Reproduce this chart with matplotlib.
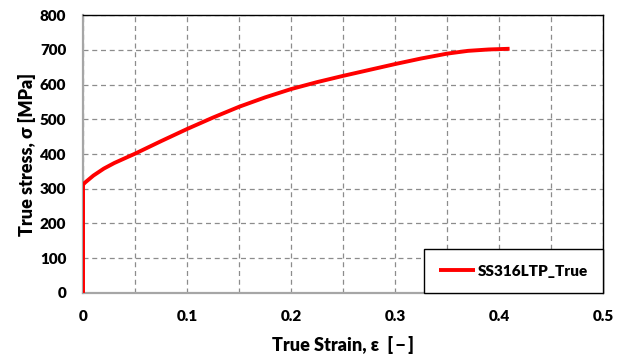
import matplotlib
matplotlib.use("Agg")
import matplotlib.pyplot as plt
from matplotlib.ticker import MultipleLocator

plt.rcParams['font.family'] = ['Lato', 'DejaVu Sans']

# True stress-strain curve for SS316L (true strain [-], true stress [MPa])
strain = [0.0, 0.0, 0.002, 0.01, 0.02, 0.03, 0.05, 0.075, 0.1, 0.125, 0.15,
          0.175, 0.2, 0.225, 0.25, 0.275, 0.3, 0.325, 0.35, 0.37, 0.39, 0.41]
stress = [0, 312, 318, 338, 358, 374, 401, 437, 472, 505, 536,
          563, 587, 607, 625, 642, 659, 675, 689, 697, 701, 703]
series_label = "SS316LTP_True"

x_ticks = [0, 0.1, 0.2, 0.3, 0.4, 0.5]
x_tick_labels = ["0", "0.1", "0.2", "0.3", "0.4", "0.5"]
y_ticks = [0, 100, 200, 300, 400, 500, 600, 700, 800]

fig = plt.figure(figsize=(6.29, 3.59), dpi=100)
ax = fig.add_axes([0.132, 0.184, 0.827, 0.774])

ax.plot(strain, stress, color='#ff0000', lw=2.8, label=series_label,
        solid_capstyle='butt', zorder=3)

ax.set_xlim(0, 0.5)
ax.set_ylim(0, 800)
ax.set_xticks(x_ticks)
ax.set_xticklabels(x_tick_labels)
ax.set_yticks(y_ticks)
ax.xaxis.set_minor_locator(MultipleLocator(0.05))

ax.grid(True, which='both', axis='x', color='#8c8c8c', ls=(0, (4, 3)), lw=0.9)
ax.grid(True, which='major', axis='y', color='#8c8c8c', ls=(0, (4, 3)), lw=0.9)
ax.set_axisbelow(True)

ax.tick_params(which='both', length=0, labelsize=11)
ax.tick_params(axis='x', pad=12)
ax.tick_params(axis='y', pad=12)
for lbl in ax.get_xticklabels() + ax.get_yticklabels():
    lbl.set_fontweight('heavy')

for side in ['left', 'bottom']:
    ax.spines[side].set_color('#a6a6a6')
    ax.spines[side].set_linewidth(1.6)
for side in ['top', 'right']:
    ax.spines[side].set_color('black')
    ax.spines[side].set_linewidth(1.0)

ax.set_xlabel("True Strain, ε  [\u2009−\u2009]", fontsize=13, fontweight='heavy',
              labelpad=10)
ax.set_ylabel("True stress, σ [MPa]", fontsize=13, fontweight='heavy', labelpad=3)

leg = ax.legend(loc='lower right', borderaxespad=0, fancybox=False,
                framealpha=1, edgecolor='black',
                prop={'weight': 'heavy', 'size': 11},
                handlelength=2.3, borderpad=1.0, handletextpad=0.2)
leg.get_frame().set_linewidth(1.0)
leg.set_zorder(5)

fig.savefig("out.png", dpi=100)
